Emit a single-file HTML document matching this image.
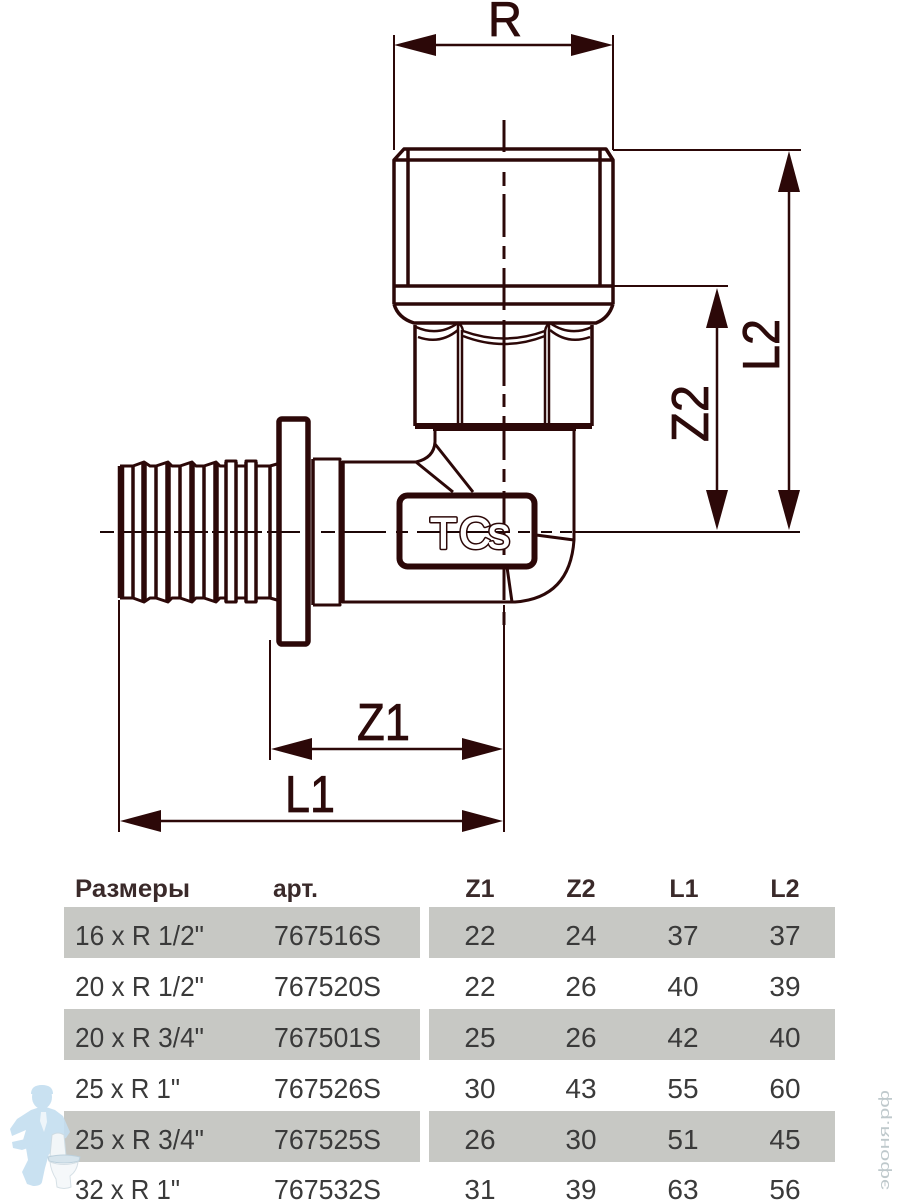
<!DOCTYPE html>
<html lang="ru">
<head>
<meta charset="utf-8">
<title>TECE fitting</title>
<style>
html,body{margin:0;padding:0;background:#fff;width:900px;height:1200px;overflow:hidden}
svg{display:block}
.d{font-family:"Liberation Sans",sans-serif;font-size:52px;fill:#2c0a0a;stroke:#2c0a0a;stroke-width:.8px}
.h{font-family:"Liberation Sans",sans-serif;font-size:25px;font-weight:bold;fill:#3a2a2a}
.t{font-family:"Liberation Sans",sans-serif;font-size:28px;fill:#3a3a3a}
.m{text-anchor:middle}
</style>
</head>
<body>
<svg width="900" height="1200" viewBox="0 0 900 1200" xmlns="http://www.w3.org/2000/svg">
<rect width="900" height="1200" fill="#fff"/>

<!-- table stripes -->
<g fill="#c7c8c4">
<rect x="64" y="907" width="356" height="51"/><rect x="429" y="907" width="406" height="51"/>
<rect x="64" y="1009" width="356" height="51"/><rect x="429" y="1009" width="406" height="51"/>
<rect x="64" y="1111" width="356" height="51"/><rect x="429" y="1111" width="406" height="51"/>
</g>

<!-- watermark plumber -->
<g>
<g fill="#c4def0" opacity=".9">
<ellipse cx="42" cy="1097" rx="10" ry="12"/>
<path d="M31 1094q0-9 11-9t11 9z"/>
<path d="M31 1110l9-3 6 0 9 3 8 6 7 16-4 6-7 2-2 10-8 4-4 14-3 14q-1 4-9 4l-6-2-5-12 6-12-2-12-3-8 3-10-14 6-2-7 7-10z"/>
<path d="M12 1142l18-4 18-6 8 2-1 7-15 3-18 6-9-2z"/>
</g>
<path d="M41 1112l5 0 1 10-3 10-4-11z" fill="#eef5fa"/>
<path d="M52 1135q6-4 12 0l2 21H50z" fill="#f2f6f8" stroke="#cddbe3" stroke-width="1"/>
<path d="M48 1157q16-4 32 0l-1 4q-15 4-30 0z" fill="#d6e4ec" stroke="#bcd0dc" stroke-width="1"/>
<path d="M50 1162q14 5 28 0q-1 9-8 14l1 11q-7 3-14 0l-1-8q-5-8-6-17z" fill="#f5f8fa" stroke="#d6e0e6" stroke-width="1"/>
</g>
<text transform="translate(889 1190) rotate(-90)" font-family="'Liberation Sans',sans-serif" font-size="15" fill="#bfc9cc" textLength="100" lengthAdjust="spacingAndGlyphs">эфоня.рф</text>

<!-- fitting -->
<g fill="none" stroke="#2c0808" stroke-linejoin="round" stroke-linecap="butt">
<!-- extension lines -->
<g stroke-width="2">
<path d="M394 35V150M613 35V150M613 150H801M613 286H728M575 532H800"/>
<path d="M119 600V832M270 640V760M504 605V832"/>
</g>
<!-- dimension shafts -->
<g stroke-width="2.5">
<path d="M430 45H580M789 185V495M717 325V495M305 749H470M155 821H470"/>
</g>

<!-- center lines -->
<g stroke-width="2" stroke="#1c0606">
<path d="M100 532H114M121 532H170M174 532H208M212 532H226M230 532H262M267 532H300M321 532H335M344 532H386M396 532H408M417 532H510M518 532H530M541 532H552M560 532H572M578 532H800"/>
</g>
<path d="M504 120V152M504 172V186M504 194V237M504 246V259M504 268V310M504 320V386M504 394V407M504 416V460M504 469V482M504 491V555M504 565V600M504 612V625" stroke-width="3"/>

<!-- threaded top -->
<g stroke-width="3.5">
<path d="M394 304V160L404 149H606L613 160V304"/>
<path d="M394 160H613M408 149V286M600 149V286"/>
<path d="M394 286H613M394 304H613"/>
<path d="M394 304Q398 318 414 323H596Q609 318 613 304"/>
<path d="M415 325V426M592 325V426"/>
</g>
<path d="M415 426H592" stroke-width="6"/>
<path d="M433 429H576" stroke-width="4"/>
<g stroke-width="2.5">
<path d="M458 324V424M462 330V424M545 330V424M549 324V424"/>
<path d="M416 327Q438 337 458 323Q462 325 463 331Q504 346 545 331Q546 325 550 323Q570 337 592 327"/>
<path d="M418 337Q440 345 458 330M463 336Q504 352 545 336M550 330Q568 345 590 337"/>
</g>

<!-- elbow body -->
<g stroke-width="3">
<path d="M342 462H416Q434 458 435 442V428"/>
<path d="M574 428V540Q570 598 515 602H342"/>
<path d="M416 462L453 492M435 444L473 492"/>
<path d="M536 535L574 540M507 567L512 602"/>
</g>
<rect x="399.500" y="495.500" width="135" height="71" rx="8" stroke-width="6"/>
<text x="430 459 488" y="548" font-family="'Liberation Sans',sans-serif" font-size="44" fill="#2c0808" stroke="#2c0808" stroke-width="4" stroke-linejoin="round">TCs</text>
<text x="430 459 488" y="548" font-family="'Liberation Sans',sans-serif" font-size="44" fill="#fff" stroke="#fff" stroke-width="1" stroke-linejoin="round">TCs</text>

<!-- flange and collar -->
<rect x="279" y="419" width="29" height="225" rx="3" stroke-width="5.500"/>
<g stroke-width="3">
<path d="M313 459H340V605H313"/>
<path d="M313 459V605M343 461V603" stroke-width="3.500"/>
</g>

<!-- ribbed tail -->
<g stroke-width="3">
<path d="M120 466H133L144 462L150 466H156L168 462L172 466H180L192 462L196 466H204L216 462L220 466H226V461H236V466H246V461H256V466H270L277 464"/>
<path d="M120 598H133L144 602L150 598H156L168 602L172 598H180L192 602L196 598H204L216 602L220 598H226V602H236V598H246V602H256V598H270L277 600"/>
</g>
<path d="M133 466V598M156 466V598M180 466V598M204 466V598M226 462V602M236 462V602M246 462V602M256 462V602M270 466V598" stroke-width="3.500"/>
<path d="M121 466V598" stroke-width="6.500"/>
<path d="M144 463V601M168 463V601M192 463V601M216 463V601" stroke-width="5.500"/>
</g>

<!-- arrowheads -->
<g fill="#2c0808">
<path d="M394 45L436 34V56Z"/>
<path d="M613 45L571 34V56Z"/>
<path d="M789 151L778 192H800Z"/>
<path d="M789 530L778 490H800Z"/>
<path d="M717 288L706 328H728Z"/>
<path d="M717 530L706 490H728Z"/>
<path d="M271 749L312 738V760Z"/>
<path d="M503 749L462 738V760Z"/>
<path d="M120 821L161 810V832Z"/>
<path d="M503 821L462 810V832Z"/>
</g>

<!-- dimension labels -->
<text class="d" x="488" y="36" style="font-size:49px" textLength="34" lengthAdjust="spacingAndGlyphs">R</text>
<text class="d" x="357" y="740" textLength="53" lengthAdjust="spacingAndGlyphs">Z1</text>
<text class="d" x="285" y="812" textLength="50" lengthAdjust="spacingAndGlyphs">L1</text>
<text class="d" transform="translate(708 442) rotate(-90)" textLength="57" lengthAdjust="spacingAndGlyphs">Z2</text>
<text class="d" transform="translate(779 371) rotate(-90)" textLength="52" lengthAdjust="spacingAndGlyphs">L2</text>

<!-- header -->
<text class="h" x="75" y="897" textLength="115" lengthAdjust="spacingAndGlyphs">Размеры</text>
<text class="h" x="273" y="897" textLength="45" lengthAdjust="spacingAndGlyphs">арт.</text>
<text class="h m" x="480" y="897">Z1</text>
<text class="h m" x="581" y="897">Z2</text>
<text class="h m" x="684" y="897">L1</text>
<text class="h m" x="785" y="897">L2</text>

<!-- rows -->
<g class="t">
<text class="t" x="75" y="945" textLength="129" lengthAdjust="spacingAndGlyphs">16 x R 1/2"</text>
<text class="t" x="274" y="945" textLength="107" lengthAdjust="spacingAndGlyphs">767516S</text>
<text class="t m" x="480" y="945">22</text><text class="t m" x="581" y="945">24</text><text class="t m" x="683" y="945">37</text><text class="t m" x="785" y="945">37</text>

<text class="t" x="75" y="996" textLength="129" lengthAdjust="spacingAndGlyphs">20 x R 1/2"</text>
<text class="t" x="274" y="996" textLength="107" lengthAdjust="spacingAndGlyphs">767520S</text>
<text class="t m" x="480" y="996">22</text><text class="t m" x="581" y="996">26</text><text class="t m" x="683" y="996">40</text><text class="t m" x="785" y="996">39</text>

<text class="t" x="75" y="1047" textLength="129" lengthAdjust="spacingAndGlyphs">20 x R 3/4"</text>
<text class="t" x="274" y="1047" textLength="107" lengthAdjust="spacingAndGlyphs">767501S</text>
<text class="t m" x="480" y="1047">25</text><text class="t m" x="581" y="1047">26</text><text class="t m" x="683" y="1047">42</text><text class="t m" x="785" y="1047">40</text>

<text class="t" x="75" y="1098" textLength="105" lengthAdjust="spacingAndGlyphs">25 x R 1"</text>
<text class="t" x="274" y="1098" textLength="107" lengthAdjust="spacingAndGlyphs">767526S</text>
<text class="t m" x="480" y="1098">30</text><text class="t m" x="581" y="1098">43</text><text class="t m" x="683" y="1098">55</text><text class="t m" x="785" y="1098">60</text>

<text class="t" x="75" y="1149" textLength="129" lengthAdjust="spacingAndGlyphs">25 x R 3/4"</text>
<text class="t" x="274" y="1149" textLength="107" lengthAdjust="spacingAndGlyphs">767525S</text>
<text class="t m" x="480" y="1149">26</text><text class="t m" x="581" y="1149">30</text><text class="t m" x="683" y="1149">51</text><text class="t m" x="785" y="1149">45</text>

<text class="t" x="75" y="1199" textLength="105" lengthAdjust="spacingAndGlyphs">32 x R 1"</text>
<text class="t" x="274" y="1199" textLength="107" lengthAdjust="spacingAndGlyphs">767532S</text>
<text class="t m" x="480" y="1199">31</text><text class="t m" x="581" y="1199">39</text><text class="t m" x="683" y="1199">63</text><text class="t m" x="785" y="1199">56</text>
</g>
</svg>
</body>
</html>
